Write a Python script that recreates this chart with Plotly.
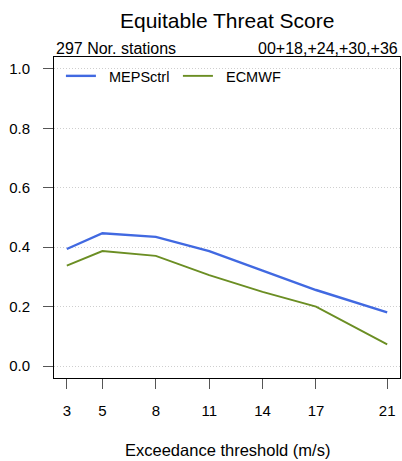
import plotly.graph_objects as go

thresholds = [3, 5, 8, 11, 14, 17, 21]
meps_ctrl = [0.394, 0.447, 0.435, 0.387, 0.321, 0.256, 0.181]
ecmwf = [0.338, 0.387, 0.371, 0.306, 0.250, 0.200, 0.073]
y_ticks = [0.0, 0.2, 0.4, 0.6, 0.8, 1.0]
y_ticklabels = ["0.0", "0.2", "0.4", "0.6", "0.8", "1.0"]
series_names = ["MEPSctrl", "ECMWF"]

FONT = "Liberation Sans, Arial, sans-serif"
PAD = "\u00a0\u00a0"

fig = go.Figure()
fig.add_trace(go.Scatter(x=thresholds, y=meps_ctrl, mode="lines", name=PAD + series_names[0],
                         line=dict(color="#4169E1", width=2.4)))
fig.add_trace(go.Scatter(x=thresholds, y=ecmwf, mode="lines", name=PAD + series_names[1],
                         line=dict(color="#6B8E23", width=1.9)))

fig.update_layout(
    width=402, height=461,
    margin=dict(l=54, r=2, t=57, b=83),
    paper_bgcolor="white", plot_bgcolor="white",
    font=dict(family=FONT, color="black", size=15),
    showlegend=True,
    legend=dict(orientation="h", x=0.02, xanchor="left", y=0.941, yanchor="middle",
                font=dict(size=14.5), bgcolor="rgba(0,0,0,0)", entrywidth=72,
                traceorder="normal"),
    xaxis=dict(range=[2.28, 21.72], tickvals=thresholds, ticks="outside", ticklen=10,
               tickcolor="#555", tickwidth=1, showline=True, linecolor="black", linewidth=1,
               mirror=True, showgrid=False, zeroline=False, ticklabelstandoff=9,
               tickfont=dict(size=15)),
    yaxis=dict(range=[-0.04, 1.04], tickvals=y_ticks, ticktext=y_ticklabels,
               ticks="outside", ticklen=10, tickcolor="#555", tickwidth=1,
               showline=True, linecolor="black", linewidth=1, mirror=True,
               showgrid=True, gridcolor="#cfcfcf", griddash="1px,2px", gridwidth=1,
               zeroline=False, ticklabelstandoff=10, tickfont=dict(size=15)),
    annotations=[
        dict(text="Equitable Threat Score", xref="paper", yref="paper", x=0.5, y=1.115,
             xanchor="center", yanchor="middle", showarrow=False, font=dict(size=21)),
        dict(text="297 Nor. stations", xref="paper", yref="paper", x=0, y=1.028,
             xanchor="left", yanchor="middle", showarrow=False, font=dict(size=16)),
        dict(text="00+18,+24,+30,+36", xref="paper", yref="paper", x=1, y=1.028,
             xanchor="right", yanchor="middle", showarrow=False, font=dict(size=16)),
        dict(text="Exceedance threshold (m/s)", xref="paper", yref="paper", x=0.5, y=-0.224,
             xanchor="center", yanchor="middle", showarrow=False, font=dict(size=16.5)),
    ],
)

fig.write_html("out.html", config={"displayModeBar": False},
               post_script="document.body.style.margin='0';document.body.style.overflow='hidden';")
